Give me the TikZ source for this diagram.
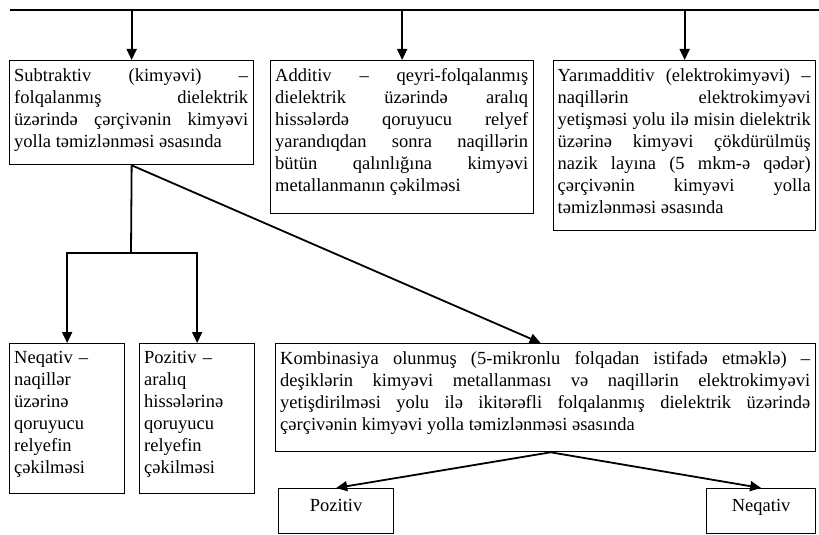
\documentclass[tikz,border=0pt]{standalone}
\usepackage{fontspec}
\setmainfont{Liberation Serif}
\usetikzlibrary{arrows.meta}
\hyphenpenalty=10000
\exhyphenpenalty=10000
\tolerance=9999
\tikzset{
  box/.style={draw, line width=1.3pt, anchor=north west, inner sep=0pt},
  txt/.style={anchor=north west, inner sep=0pt, align=justify},
  ltxt/.style={anchor=north west, inner sep=0pt, align=left},
  stxt/.style={anchor=base, inner sep=0pt},
  conn/.style={line width=1.8pt},
  arr/.style={line width=1.8pt, -{Triangle[length=11pt,width=10pt]}},
}
\begin{document}
\begin{tikzpicture}[x=1pt,y=-1pt,
  font=\fontsize{18.5}{22}\selectfont]
\useasboundingbox (0,0) rectangle (819,535);

% boxes
\node[box, minimum width=244pt, minimum height=104pt] (S) at (9,60) {};
\node[box, minimum width=263pt, minimum height=153pt] (A) at (270,60) {};
\node[box, minimum width=262pt, minimum height=170pt] (Y) at (553,60) {};
\node[box, minimum width=115pt, minimum height=150pt] (N) at (9,343) {};
\node[box, minimum width=115pt, minimum height=150pt] (P) at (139,343) {};
\node[box, minimum width=540pt, minimum height=108pt] (K) at (275,343) {};
\node[box, minimum width=115pt, minimum height=45pt] (Ps) at (278,488) {};
\node[box, minimum width=109pt, minimum height=45pt] (Ns) at (706,488) {};

% texts
\node[txt, text width=234pt] (St) at ([shift={(5,5.5)}]S.north west)
 {\strut Subtraktiv (kimyəvi) –\linebreak folqalanmış dielektrik\linebreak üzərində çərçivənin kimyəvi\linebreak yolla təmizlənməsi əsasında};
\node[txt, text width=253pt] (At) at ([shift={(5,5.5)}]A.north west)
 {\strut Additiv – qeyri-folqalanmış\linebreak dielektrik üzərində aralıq\linebreak hissələrdə qoruyucu relyef\linebreak yarandıqdan sonra naqillərin\linebreak bütün qalınlığına kimyəvi\linebreak metallanmanın çəkilməsi};
\node[txt, text width=253pt] (Yt) at ([shift={(4.5,5.5)}]Y.north west)
 {\strut Yarımadditiv (elektrokimyəvi) –\linebreak naqillərin elektrokimyəvi\linebreak yetişməsi yolu ilə misin dielektrik\linebreak üzərinə kimyəvi çökdürülmüş\linebreak nazik layına (5 mkm-ə qədər)\linebreak çərçivənin kimyəvi yolla\linebreak təmizlənməsi əsasında};
\node[ltxt, text width=105pt] (Nt) at ([shift={(5,4.5)}]N.north west)
 {\strut Neqativ –\\ naqillər\\ üzərinə\\ qoruyucu\\ relyefin\\ çəkilməsi};
\node[ltxt, text width=105pt] (Pt) at ([shift={(5,4.5)}]P.north west)
 {\strut Pozitiv –\\ aralıq\\ hissələrinə\\ qoruyucu\\ relyefin\\ çəkilməsi};
\node[txt, text width=530pt] (Kt) at ([shift={(5,5.5)}]K.north west)
 {\strut Kombinasiya olunmuş (5-mikronlu folqadan istifadə etməklə) –\linebreak deşiklərin kimyəvi metallanması və naqillərin elektrokimyəvi\linebreak yetişdirilməsi yolu ilə ikitərəfli folqalanmış dielektrik üzərində\linebreak çərçivənin kimyəvi yolla təmizlənməsi əsasında};
\node[stxt] (Pst) at ([yshift=-23pt]Ps.north) {Pozitiv};
\node[stxt] (Nst) at ([yshift=-23pt]Ns.north) {Neqativ};

% connectors
\coordinate (tl) at (10,10);
\coordinate (tr) at (819,10);
\draw[conn] (tl) -- (tr);
\draw[arr] (S.north |- tl) -- (S.north);
\draw[arr] (A.north |- tl) -- (A.north);
\draw[arr] (Y.north |- tl) -- (Y.north);

\coordinate (br) at (131,253);
\draw[conn] (S.south) -- (br);
\draw[arr] (br) -| (N.north);
\draw[arr] (br) -| (P.north);
\draw[arr] (S.south) -- ([xshift=-5pt]K.north);

\coordinate (kj) at ([xshift=5pt]K.south);
\draw[arr] (kj) -- (Ps.north);
\draw[arr] (kj) -- (Ns.north);
\end{tikzpicture}
\end{document}
